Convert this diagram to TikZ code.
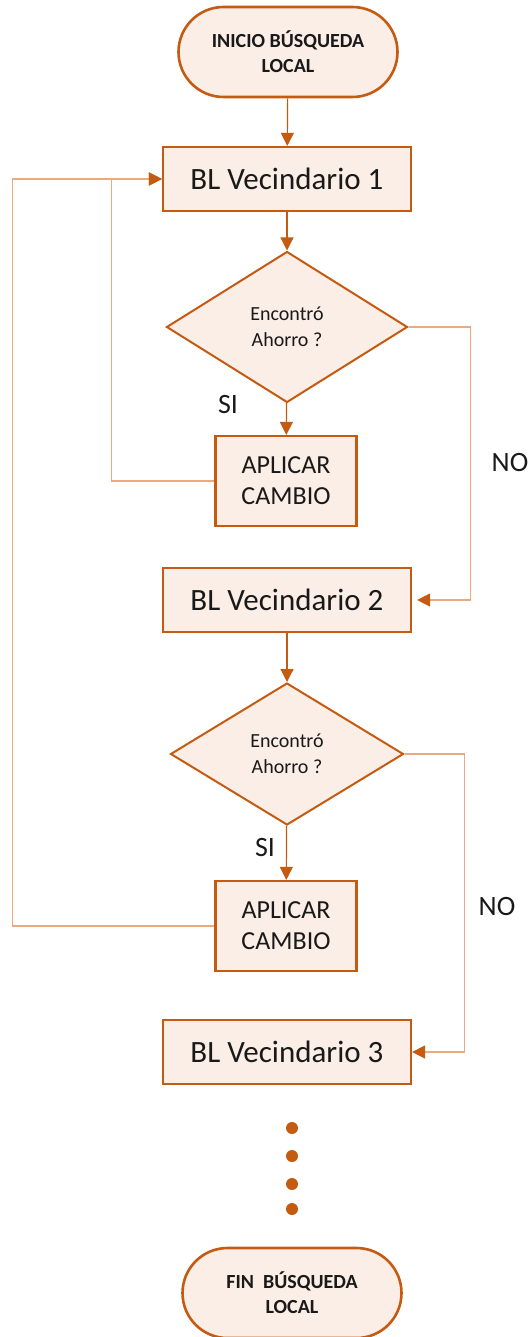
\documentclass[tikz,border=0pt]{standalone}
\usepackage{fontspec}
\setmainfont{Carlito}
\usetikzlibrary{shapes.geometric,arrows.meta}
\definecolor{brick}{RGB}{197,90,17}
\definecolor{peach}{RGB}{251,238,230}
\definecolor{salmon}{RGB}{236,168,126}
\definecolor{ink}{RGB}{25,25,25}

\begin{document}
\begin{tikzpicture}[x=1pt,y=-1pt,
  term/.style={draw=brick,fill=peach,line width=2.6pt,rounded corners=45pt,minimum width=219pt,minimum height=90pt,
    align=center,font=\fontsize{20}{25}\selectfont\bfseries,text=ink},
  blbox/.style={draw=brick,fill=peach,line width=2.2pt,minimum width=248pt,minimum height=64pt,
    font=\fontsize{31}{34}\selectfont,text=ink},
  apbox/.style={draw=brick,fill=peach,line width=2.2pt,minimum width=141pt,minimum height=90pt,
    align=center,font=\fontsize{26}{31}\selectfont,text=ink},
  ask/.style={diamond,draw=brick,fill=peach,line width=2pt,inner sep=0pt,
    align=center,font=\fontsize{20}{26}\selectfont,text=ink},
  flow/.style={draw=brick,line width=1.2pt,-{Triangle[length=13pt,width=13pt]}},
  back/.style={draw=salmon,line width=1.4pt,-{Triangle[length=13pt,width=13pt,color=brick]}},
  tag/.style={font=\fontsize{28}{30}\selectfont,text=ink},
  dot/.style={circle,fill=brick,inner sep=0pt,minimum size=12pt}]
  \useasboundingbox (0,0) rectangle (532,1337);

  % first neighbourhood
  \node[term] (start) at (288,52) {INICIO BÚSQUEDA\\LOCAL};
  \node[blbox] (bl1) at (287,179) {BL Vecindario 1};
  \node[ask,minimum width=241pt,minimum height=151pt] (d1) at (287,327) {Encontró\\Ahorro ?};
  \node[apbox] (ap1) at (286,481) {APLICAR\\CAMBIO};
  \node[tag] (si1) at (228,405) {SI};
  \node[tag] (no1) at (510,463) {NO};

  % second neighbourhood
  \node[blbox] (bl2) at (287,600) {BL Vecindario 2};
  \node[ask,minimum width=233pt,minimum height=142pt] (d2) at (287,754) {Encontró\\Ahorro ?};
  \node[apbox] (ap2) at (286,926) {APLICAR\\CAMBIO};
  \node[tag] (si2) at (265,848) {SI};
  \node[tag] (no2) at (497,907) {NO};

  % third one and the end
  \node[blbox] (bl3) at (287,1052) {BL Vecindario 3};
  \foreach \y [count=\i] in {1128,1156,1184,1209}
    \node[dot] (dot\i) at (292,\y) {};
  \node[term] (stop) at (292,1293) {FIN\ \ BÚSQUEDA\\LOCAL};

  \draw[flow] (start) -- (bl1);
  \draw[flow] (bl1) -- (d1);
  \draw[flow] (d1) -- (ap1);
  \draw[flow] (bl2) -- (d2);
  \draw[flow] (d2) -- (ap2);

  \draw[back] (ap1.west) -- ++(-103,0) |- (bl1.west);
  \draw[back] (ap2.west) -- ++(-202,0) |- (bl1.west);
  \draw[back,shorten >=5pt] (d1.east) -- ++(62,0) |- (bl2.east);
  \draw[back] (d2.east) -- ++(60,0) |- (bl3.east);
\end{tikzpicture}
\end{document}
